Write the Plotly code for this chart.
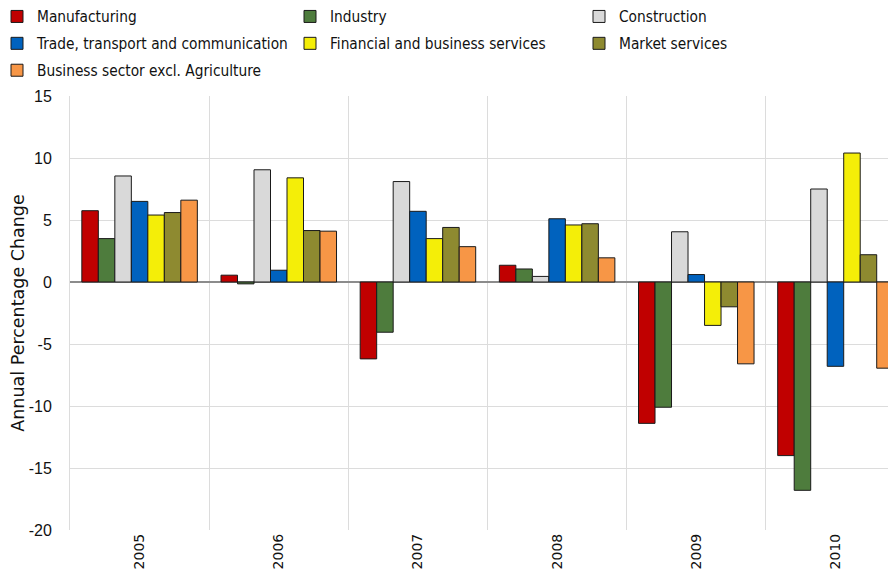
import plotly.graph_objects as go

# years on the x axis
years = ['2005', '2006', '2007', '2008', '2009', '2010']

# annual percentage change per sector
manufacturing = [5.75, 0.55, -6.2, 1.35, -11.4, -14.0]
industry = [3.5, -0.15, -4.05, 1.05, -10.1, -16.8]
construction = [8.55, 9.05, 8.1, 0.45, 4.05, 7.5]
trade = [6.5, 0.95, 5.7, 5.1, 0.6, -6.8]
financial = [5.4, 8.4, 3.5, 4.6, -3.5, 10.4]
market = [5.6, 4.15, 4.4, 4.7, -2.0, 2.2]
business = [6.6, 4.1, 2.85, 1.95, -6.6, -6.95]

y_ticks = [15, 10, 5, 0, -5, -10, -15, -20]
y_ticktext = ['15', '10', '5', '0', '-5', '-10', '-15', '-20']

series = [
    ('Manufacturing', manufacturing, '#C00000', 'legend'),
    ('Industry', industry, '#4E7C3D', 'legend2'),
    ('Construction', construction, '#D9D9D9', 'legend3'),
    ('Trade, transport and communication', trade, '#0062BE', 'legend'),
    ('Financial and business services', financial, '#F4EE08', 'legend2'),
    ('Market services', market, '#8E8A30', 'legend3'),
    ('Business sector excl. Agriculture', business, '#F79646', 'legend'),
]

fig = go.Figure()
for name, vals, col, leg in series:
    fig.add_trace(go.Bar(
        x=years, y=vals, name=name, legend=leg, legendgroup=name,
        marker=dict(color=col, line=dict(color='#1a1a1a', width=1)),
    ))

# page body has an 8px margin, so the figure is made 8px smaller
W, H = 888, 580
L, T, B = 62, 88, 58
pw = W - L
ph = H - T - B

narrow = 'DejaVu Sans Condensed, Liberation Sans Narrow, sans-serif'
legfont = dict(family=narrow, size=15.3, color='#111')
common = dict(orientation='v', yanchor='top', xref='paper', yref='paper',
              y=1 + 96 / ph,
              bgcolor='rgba(0,0,0,0)', font=legfont, tracegroupgap=4,
              itemwidth=30, traceorder='grouped')

fig.update_layout(
    width=W, height=H,
    margin=dict(l=L, r=0, t=T, b=B, autoexpand=False),
    plot_bgcolor='white', paper_bgcolor='white',
    barmode='group', bargap=0.17, bargroupgap=0,
    font=dict(family='Liberation Sans, Arial, sans-serif', size=16, color='#111'),
    legend=dict(x=-73 / pw, **common),
    legend2=dict(x=220 / pw, **common),
    legend3=dict(x=509 / pw, **common),
    xaxis=dict(
        type='category', range=[-0.5, 5.435],
        tickson='boundaries', showgrid=True, gridcolor='#DCDCDC', gridwidth=1,
        ticks='outside', ticklen=16, tickcolor='rgba(0,0,0,0)', tickangle=-90,
        tickfont=dict(family='DejaVu Sans', size=14, color='#111'),
        showline=False, zeroline=False,
    ),
    yaxis=dict(
        range=[-20, 15], tickvals=y_ticks, ticktext=y_ticktext,
        showgrid=True, gridcolor='#DCDCDC', gridwidth=1,
        showline=True, linecolor='#DCDCDC', linewidth=1,
        zeroline=True, zerolinecolor='#8C8C8C', zerolinewidth=1.5,
        ticks='outside', ticklen=14, tickcolor='rgba(0,0,0,0)',
        tickfont=dict(size=16),
        title=dict(text='Annual Percentage Change',
                   font=dict(family='DejaVu Sans', size=17.5), standoff=5),
    ),
)

fig.write_html('out.html')
